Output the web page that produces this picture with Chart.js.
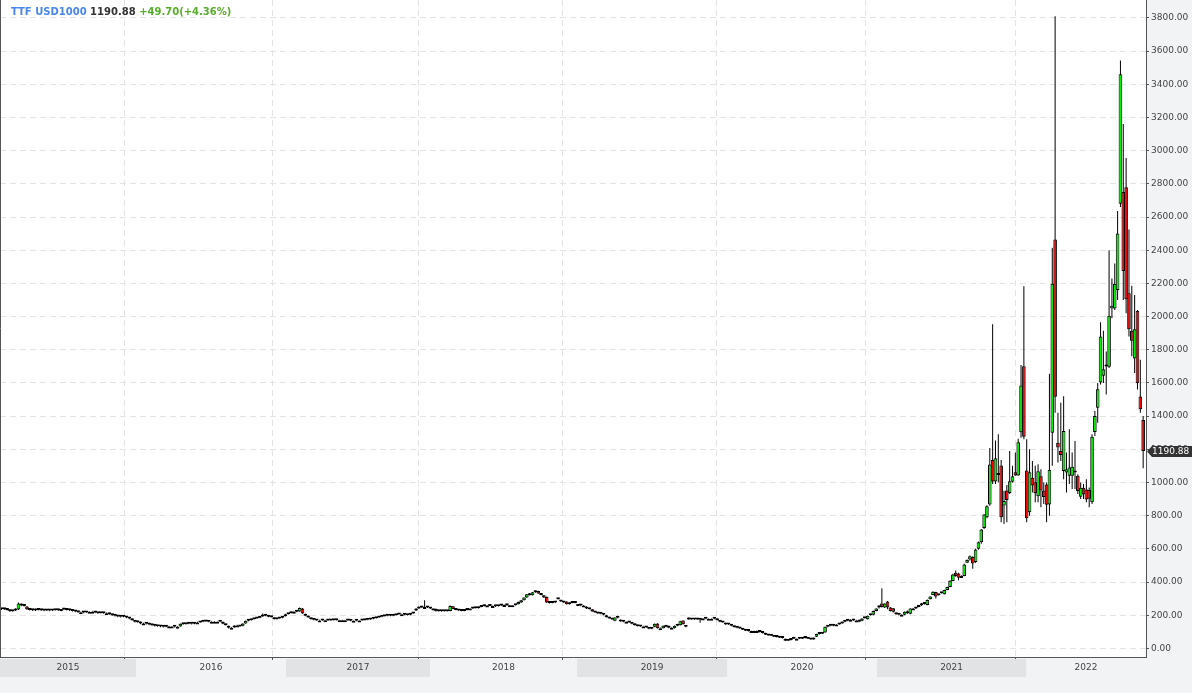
<!DOCTYPE html>
<html>
<head>
<meta charset="utf-8">
<script src="https://cdn.jsdelivr.net/npm/chart.js@4/dist/chart.umd.min.js"></script>
<style>
  html, body { margin: 0; padding: 0; background: #f2f3f5; overflow: hidden; }
  canvas { display: block; }
</style>
</head>
<body>
<canvas id="grafica" width="1192" height="693"></canvas>
<script>
// Velas semanales TTF USD1000 (índice de semana 0..402)
const opens = [
  236,238,236,232,224,228,234,266,262,252,
  236,232,228,236,232,230,228,232,228,230,
  232,226,236,234,232,230,226,222,218,218,
  216,220,220,220,216,212,214,212,212,206,
  200,196,192,190,192,186,180,166,160,160,
  150,150,148,144,140,136,134,132,130,132,
  132,132,130,132,148,146,148,150,148,156,
  156,160,162,164,160,160,160,160,160,148,
  134,124,126,138,138,136,150,166,170,176,
  180,184,192,200,196,190,186,176,180,184,
  194,206,212,220,220,222,240,206,196,184,
  176,172,168,168,170,170,168,170,172,170,
  170,170,170,172,166,166,168,168,170,172,
  174,178,182,186,190,194,196,204,196,200,
  204,206,206,202,202,216,228,240,246,250,
  250,246,230,238,224,226,224,226,226,254,
  238,236,228,226,232,240,240,242,242,250,
  254,258,258,256,256,254,258,262,262,260,
  260,260,266,276,290,306,330,320,338,346,
  330,320,310,276,274,276,296,290,282,282,
  266,274,280,256,260,258,250,240,236,222,
  216,210,208,200,188,180,166,186,172,162,
  160,160,156,148,140,134,132,132,126,118,
  130,150,122,122,136,136,124,122,136,140,
  168,138,186,174,180,174,172,180,180,178,
  178,178,180,168,160,152,144,144,136,128,
  124,120,112,106,104,104,104,106,98,92,
  82,78,78,70,68,64,58,46,50,60,
  58,58,58,64,62,58,54,70,86,88,
  96,130,136,136,144,144,150,160,166,172,
  172,168,172,166,182,176,200,202,226,246,
  270,246,282,246,242,212,204,202,202,224,
  208,240,240,250,272,268,262,296,322,340,
  320,332,326,352,370,406,456,452,436,436,
  516,535,551,521,600,640,725,791,867,1136,
  1006,1050,1102,861,952,936,1004,1062,1042,1303,
  1700,1072,821,1028,1002,917,1038,952,988,867,
  1300,2465,1240,1190,1069,1060,1040,1040,1060,1040,
  914,968,958,954,881,1304,1451,1602,1643,1699,
  1697,2049,2049,2160,2680,2750,2780,2140,1914,1747,
  2035,1518,1377
];
const highs = [
  242,244,240,236,232,242,276,270,266,256,
  238,236,240,240,236,234,236,234,234,236,
  234,238,238,236,234,232,228,224,222,220,
  224,222,224,222,218,218,216,216,214,208,
  202,198,194,196,194,188,182,170,164,162,
  154,152,150,146,142,138,136,134,136,136,
  134,134,134,150,150,152,154,152,158,160,
  162,164,170,166,164,164,162,164,162,150,
  138,128,140,142,140,152,168,172,178,182,
  186,192,210,202,198,192,188,182,186,194,
  208,212,222,224,232,246,244,208,198,186,
  178,174,172,172,172,172,172,174,174,172,
  172,172,172,174,168,170,170,172,174,176,
  180,184,188,192,196,198,200,206,202,206,
  208,208,208,204,212,218,242,252,252,290,
  252,248,238,240,228,228,228,228,258,256,
  240,238,230,230,242,242,244,246,252,256,
  266,262,260,258,258,260,264,264,264,262,
  262,264,282,292,308,328,334,340,350,348,
  332,322,312,278,280,284,300,292,284,284,
  278,282,282,262,262,260,254,242,238,224,
  218,212,210,202,190,182,188,196,174,164,
  162,162,158,150,142,136,136,134,128,128,
  150,152,126,138,138,138,128,138,140,166,
  170,140,188,180,182,178,182,182,182,180,
  180,182,182,170,162,154,148,146,138,130,
  126,122,114,108,106,106,108,108,100,94,
  84,80,80,72,70,66,60,52,62,62,
  60,62,66,66,64,60,66,88,90,92,
  132,138,140,146,146,150,162,166,174,176,
  174,172,174,182,188,198,208,228,242,262,
  362,272,286,250,244,214,206,206,222,228,
  242,244,248,258,274,274,294,314,344,342,
  328,338,354,372,410,450,470,456,440,510,
  536,560,556,600,644,720,810,862,1207,1953,
  1253,1290,1135,950,985,1190,1100,1180,1263,1708,
  2182,1260,1200,1130,1100,1110,1080,1000,1000,1655,
  2414,3810,1420,1480,1520,1180,1320,1180,1250,1050,
  1000,990,1020,970,1290,1430,1600,1965,1915,1790,
  2400,2230,2320,2636,3544,3160,2956,2524,2186,2130,
  2040,1740,1400
];
const lows = [
  232,232,228,220,220,226,232,254,252,232,
  228,226,226,228,226,224,226,224,226,228,
  226,224,230,228,226,222,218,214,214,212,
  214,216,216,212,208,210,208,208,202,196,
  192,188,186,188,182,176,166,156,154,146,
  146,144,140,136,132,130,128,126,128,128,
  128,126,126,130,142,144,146,144,146,152,
  154,158,160,158,156,156,156,158,146,138,
  120,120,124,134,130,134,148,164,168,174,
  178,182,190,194,188,186,174,174,178,182,
  192,204,210,216,218,220,208,194,184,174,
  170,166,166,166,166,166,166,168,168,168,
  166,168,166,164,164,164,166,166,168,170,
  172,176,180,184,188,192,194,194,194,198,
  202,202,200,198,200,208,226,238,244,246,
  244,238,228,222,222,220,222,222,224,236,
  230,226,224,224,230,236,238,240,240,248,
  252,254,254,252,250,252,256,258,256,256,
  258,258,264,274,288,304,318,318,336,328,
  320,304,274,270,272,274,294,280,274,264,
  264,272,272,254,254,254,238,234,220,214,
  208,206,200,186,178,172,164,182,160,158,
  156,154,146,138,132,130,130,124,116,116,
  128,120,118,120,128,122,120,120,134,138,
  144,128,172,172,172,172,154,176,176,176,
  174,176,168,158,154,142,142,134,126,122,
  118,110,104,102,102,100,102,96,90,80,
  76,74,68,66,62,60,44,44,48,56,
  56,56,56,60,56,52,52,68,84,86,
  94,128,134,134,140,142,148,158,164,170,
  166,166,158,164,180,174,198,200,224,240,
  246,244,236,222,216,202,198,198,200,208,
  206,236,238,248,256,264,260,294,320,300,
  318,330,324,350,368,404,432,410,430,434,
  514,530,480,515,595,630,720,785,860,990,
  990,1000,760,750,760,930,1000,1040,1040,1270,
  1260,760,800,940,880,880,850,870,760,800,
  1100,1420,1120,1130,1020,940,990,960,960,930,
  900,900,880,850,870,1280,1360,1590,1600,1530,
  1690,1990,2040,2100,2660,2100,2020,1880,1760,1660,
  1560,1420,1085
];
const closes = [
  238,236,232,224,228,238,270,258,256,236,
  232,230,238,232,230,228,232,228,230,232,
  230,236,234,232,230,226,222,218,218,216,
  220,220,220,216,212,214,212,212,206,200,
  196,192,190,192,186,180,170,160,158,150,
  150,148,144,140,136,134,132,130,132,132,
  132,130,130,148,146,148,150,148,156,156,
  160,162,164,160,160,160,160,162,148,140,
  124,124,138,138,132,150,166,170,176,180,
  184,190,200,196,190,188,176,180,184,192,
  206,210,220,220,230,244,210,196,186,176,
  172,168,168,170,170,168,170,172,170,170,
  170,170,168,166,166,168,168,170,172,174,
  178,182,186,190,194,196,198,196,200,204,
  206,206,202,200,210,210,240,250,250,250,
  246,240,236,224,226,224,226,224,256,238,
  232,228,226,228,240,240,242,244,250,254,
  258,258,256,256,254,258,262,262,260,260,
  260,262,280,290,306,326,320,338,340,330,
  322,306,276,274,276,280,298,282,276,266,
  276,280,274,260,258,258,240,236,222,216,
  210,208,202,188,180,174,186,184,162,160,
  160,156,148,140,134,132,132,126,118,126,
  148,122,122,136,130,124,124,136,138,164,
  146,130,174,178,174,176,180,180,178,178,
  178,180,170,160,156,144,146,136,128,124,
  120,112,106,104,104,104,104,98,92,82,
  78,76,70,68,64,62,46,50,60,58,
  58,60,64,62,58,54,64,86,88,90,
  130,136,138,144,144,148,160,164,172,172,
  168,168,160,180,184,196,206,226,240,256,
  250,270,246,226,220,206,202,202,220,212,
  240,240,246,256,260,272,292,312,342,312,
  326,336,352,370,408,446,436,426,436,506,
  532,555,511,596,640,717,807,857,1108,1006,
  1146,1045,791,888,895,1008,1038,1042,1243,1584,
  1276,785,1062,982,936,1068,952,912,866,1076,
  2198,1517,1210,1165,1310,1080,1090,1095,1066,948,
  968,928,898,902,1276,1401,1562,1880,1683,1709,
  2005,2065,2196,2500,3460,2274,2105,1924,1854,1924,
  1598,1441,1190
];

const yTicks = [0, 200, 400, 600, 800, 1000, 1200, 1400, 1600, 1800, 2000,
  2200, 2400, 2600, 2800, 3000, 3200, 3400, 3600, 3800];
const gridWeeks = [43.5, 95.5, 147, 197.7, 251.6, 304.4, 357.2];
const yearLabels = ["2015", "2016", "2017", "2018", "2019", "2020", "2021", "2022"];
const yearStarts = [-0.5, 47.4, 100.2, 150.9, 202.7, 255.5, 308.3, 360.8];
const titulo = "TTF USD1000";
const ultimo = 1190.88;
const cambio = "+49.70(+4.36%)";

const VERDE = "#00f000";
const ROJO = "#f00000";

// fondo, bandas de años, cabecera y etiqueta del último precio
const decorado = {
  id: "decorado",
  beforeDraw(chart) {
    const { ctx, chartArea: a } = chart;
    ctx.save();
    ctx.fillStyle = "#f2f3f5";
    ctx.fillRect(0, 0, chart.width, chart.height);
    ctx.fillStyle = "#ffffff";
    ctx.fillRect(a.left, a.top, a.right - a.left, a.bottom - a.top);
    ctx.restore();
  },
  afterDraw(chart) {
    const { ctx, chartArea: a } = chart;
    const x = chart.scales.x;
    const y = chart.scales.y;
    ctx.save();

    ctx.strokeStyle = "#555";
    ctx.lineWidth = 1;
    ctx.beginPath();
    ctx.moveTo(a.left + 0.5, a.top);
    ctx.lineTo(a.left + 0.5, a.bottom);
    ctx.stroke();

    ctx.font = '9px "DejaVu Sans"';
    ctx.textAlign = "center";
    ctx.textBaseline = "middle";
    yearLabels.forEach((lab, k) => {
      const x0 = Math.max(a.left, x.getPixelForValue(yearStarts[k]));
      const x1 = k + 1 < yearStarts.length ? x.getPixelForValue(yearStarts[k + 1]) : a.right;
      if (k % 2 === 0) {
        ctx.fillStyle = "#e2e3e5";
        ctx.fillRect(x0, a.bottom + 2, x1 - x0, 18);
      }
      ctx.fillStyle = "#444";
      ctx.fillText(lab, (x0 + x1) / 2, a.bottom + 11);
    });

    // cabecera
    ctx.textAlign = "left";
    ctx.textBaseline = "alphabetic";
    ctx.font = 'bold 10px "DejaVu Sans"';
    let tx = 11;
    const partes = [[titulo, "#4a86e8"], [ultimo.toFixed(2), "#333"], [cambio, "#58ad2c"]];
    partes.forEach(([t, c]) => {
      ctx.fillStyle = c;
      ctx.fillText(t, tx, 15);
      tx += ctx.measureText(t + " ").width;
    });

    // etiqueta del último precio
    const py = Math.round(y.getPixelForValue(ultimo)) + 0.5;
    ctx.fillStyle = "#333";
    ctx.beginPath();
    ctx.moveTo(a.right + 1, py);
    ctx.lineTo(a.right + 6, py - 5.5);
    ctx.lineTo(chart.width, py - 5.5);
    ctx.lineTo(chart.width, py + 5.5);
    ctx.lineTo(a.right + 6, py + 5.5);
    ctx.closePath();
    ctx.fill();
    ctx.fillStyle = "#fff";
    ctx.font = '9px "DejaVu Sans"';
    ctx.textBaseline = "middle";
    ctx.fillText(ultimo.toFixed(2), a.right + 6, py + 0.5);

    ctx.restore();
  }
};

document.addEventListener("DOMContentLoaded", function () {
  const ctx = document.getElementById("grafica").getContext("2d");
  new Chart(ctx, {
    type: "bar",
    data: {
      datasets: [
        {
          label: "Cuerpo",
          data: opens.map((o, i) => ({ x: i, y: [o, closes[i]] })),
          backgroundColor: (c) => {
            const i = c.dataIndex;
            if (i === undefined) return VERDE;
            return closes[i] >= opens[i] ? VERDE : ROJO;
          },
          borderColor: "#000",
          borderWidth: 1,
          borderSkipped: false,
          barThickness: 3.6,
          minBarLength: 2,
          inflateAmount: 0,
          grouped: false,
          order: 0,
        },
        {
          label: "Mecha",
          data: lows.map((l, i) => ({ x: i, y: [l, highs[i]] })),
          backgroundColor: "#000",
          borderWidth: 0,
          barThickness: 1,
          inflateAmount: 0,
          grouped: false,
          order: 1,
        },
      ],
    },
    options: {
      responsive: false,
      animation: false,
      layout: { padding: 0 },
      plugins: {
        legend: { display: false },
        tooltip: { enabled: false },
      },
      scales: {
        x: {
          type: "linear",
          min: -0.5,
          max: 403,
          offset: false,
          afterBuildTicks: (s) => { s.ticks = gridWeeks.map((v) => ({ value: v })); },
          afterFit: (s) => { s.height = 36; s.paddingLeft = 0; s.paddingRight = 0; },
          ticks: { display: false },
          grid: { offset: false, color: "#e4e4e4", tickLength: 3, tickColor: "#555", tickBorderDash: [] },
          border: { color: "#555", dash: [6, 4] },
        },
        y: {
          position: "right",
          min: -52,
          max: 3908,
          afterBuildTicks: (s) => { s.ticks = yTicks.map((v) => ({ value: v })); },
          afterFit: (s) => { s.width = 46; s.paddingTop = 0; s.paddingBottom = 0; },
          ticks: {
            color: "#444",
            font: { family: "DejaVu Sans", size: 9 },
            padding: 2,
            callback: (v) => Number(v).toFixed(2),
          },
          grid: { offset: false, color: "#e4e4e4", tickLength: 3, tickColor: "#555", tickBorderDash: [] },
          border: { color: "#555", dash: [6, 4] },
        },
      },
    },
    plugins: [decorado],
  });
});
</script>
</body>
</html>
